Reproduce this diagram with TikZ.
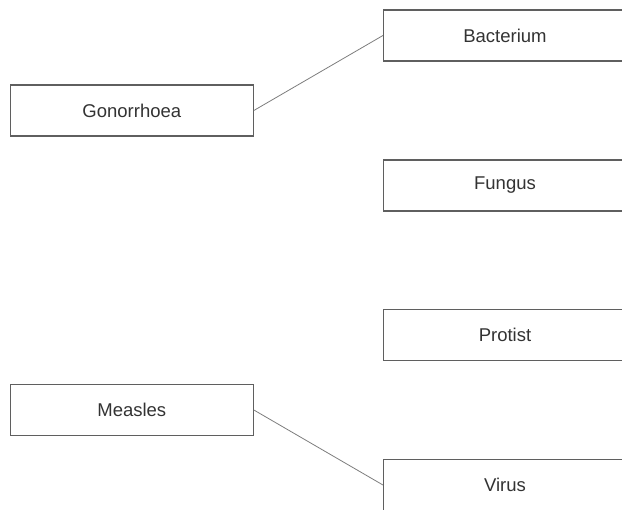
\documentclass[tikz,border=0pt]{standalone}
\usepackage{fontspec}
\setmainfont{Liberation Sans}
\definecolor{boxline}{RGB}{95,95,95}
\definecolor{connline}{RGB}{125,125,125}
\begin{document}
\begin{tikzpicture}[x=1pt,y=-1pt,
  termbox/.style={draw=boxline,line width=1.1pt,fill=white,minimum width=243pt,minimum height=51pt,inner sep=0pt,font=\fontsize{18.5}{22}\selectfont,text=black!80},
  conn/.style={draw=connline,line width=0.8pt}]
\clip (0,0) rectangle (622,510);
\useasboundingbox (0,0) rectangle (622,510);
\node[termbox] (bac) at (505,35.5) {Bacterium};
\node[termbox] (gon) at (131.8,110.5) {Gonorrhoea};
\node[termbox] (fun) at (505,185.5) {Fungus};
\node[termbox] (pro) at (505,335) {Protist};
\node[termbox] (mea) at (131.8,410) {Measles};
\node[termbox] (vir) at (505,485) {Virus};
\draw[conn] (gon.east) -- (bac.west);
\draw[conn] (mea.east) -- (vir.west);
\end{tikzpicture}
\end{document}
